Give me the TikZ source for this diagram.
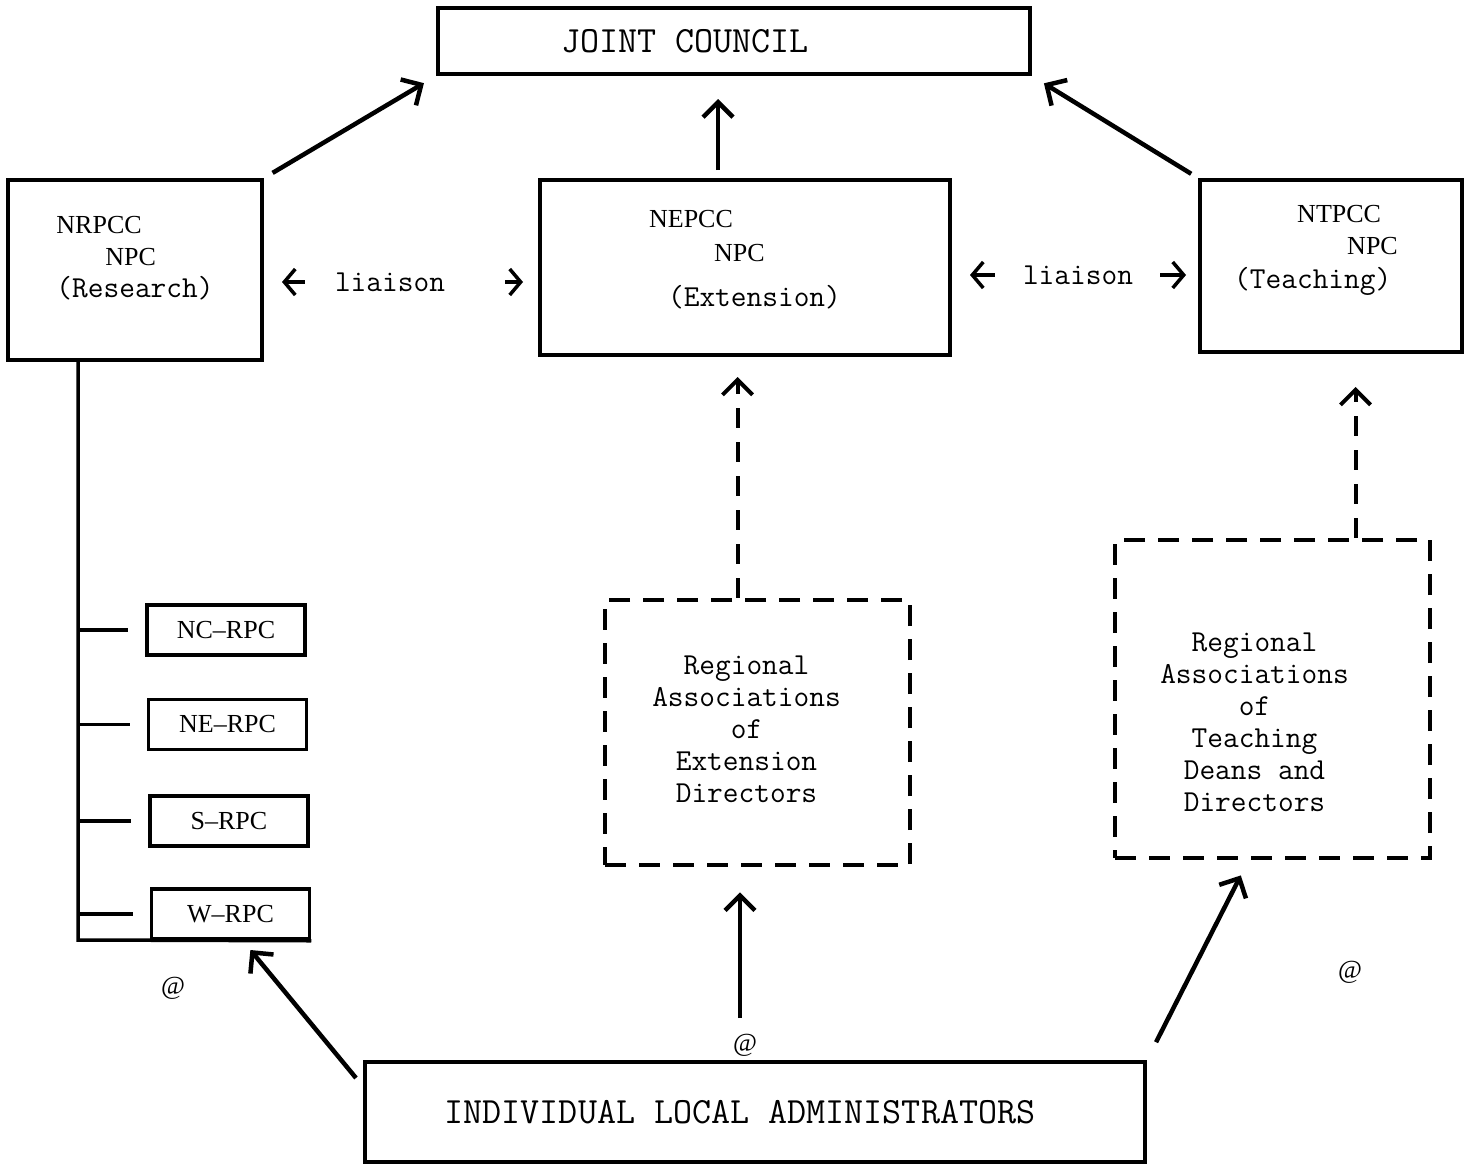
\documentclass[tikz,border=0pt]{standalone}
\usepackage{fontspec}
\setmainfont{Liberation Serif}
\usetikzlibrary{arrows.meta,positioning}

\newcommand\acr{\rmfamily\fontsize{26}{32}\selectfont}

\begin{document}
\begin{tikzpicture}[x=1pt,y=-1pt,
  k/.style={rectangle,draw,line width=4pt,inner sep=0pt},
  kd/.style={k,line width=4.5pt,dash pattern=on 21pt off 13pt},
  tt/.style={font=\ttfamily\fontsize{30.5}{32}\selectfont},
  ttbig/.style={font=\ttfamily\fontsize{37}{40}\selectfont},
  lbl/.style={inner sep=0pt},
  rpc/.style={k,line width=3.5pt,minimum width=158pt,minimum height=50pt,font=\acr},
  tree/.style={line width=3.5pt},
  arr/.style={line width=4.5pt,-{Straight Barb[length=15pt,width=30pt]}},
  darr/.style={arr,line width=4pt,dash pattern=on 20pt off 14pt},
  la/.style={line width=3.5pt,-{Straight Barb[length=11pt,width=26pt]}}]
  \useasboundingbox (0,0) rectangle (1469,1165);

  % top level
  \node[k,ttbig,minimum width=592pt,minimum height=66pt] (jc) at (734,41) {JOINT COUNCIL\hspace*{98pt}};

  % the three national committees
  \node[k,tt,align=left,minimum width=254pt,minimum height=180pt] (nrpcc) at (135,270)
    {{\acr NRPCC}\\\hspace*{49pt}{\acr NPC}\\(Research)\rule[-27pt]{0pt}{0pt}};
  \node[k,tt,align=left,minimum width=410pt,minimum height=175pt] (nepcc) at (745,267.5)
    {{\acr NEPCC}\\[2pt]\hspace*{65pt}{\acr NPC}\\[13pt]\hspace*{19pt}(Extension)\rule[-19pt]{0pt}{0pt}};
  \node[k,tt,align=left,minimum width=262pt,minimum height=172pt] (ntpcc) at (1331,266)
    {\hspace*{63pt}{\acr NTPCC}\\\hspace*{113pt}{\acr NPC}\hspace*{30pt}\mbox{}\\[2pt](Teaching)\rule[-39pt]{0pt}{0pt}};

  \node[tt,lbl] (lia1) at (390,282) {liaison};
  \node[tt,lbl] (lia2) at (1078,275) {liaison};

  % regional research committees
  \node[rpc] (ncrpc) at (226,630) {NC--RPC};
  \node[rpc] (nerpc) at (227.5,724.5) {NE--RPC};
  \node[rpc] (srpc) at (229,821) {S--RPC};
  \node[rpc] (wrpc) at (230.5,914) {W--RPC};
  \coordinate (corner) at (78,940);

  % regional associations
  \node[kd,tt,minimum width=305pt,minimum height=265pt] (raext) at (757.5,732.5)
    {\begin{tabular}{@{}c@{}}Regional\\Associations\\of\\Extension\\Directors\end{tabular}\hspace*{22pt}};
  \node[kd,tt,minimum width=315pt,minimum height=318pt] (rateach) at (1272.5,699)
    {\begin{tabular}{@{}c@{}}\rule{0pt}{75pt}Regional\\Associations\\of\\Teaching\\Deans and\\Directors\end{tabular}\hspace*{36pt}};

  \node[k,ttbig,minimum width=780pt,minimum height=100pt] (ila) at (755,1112) {INDIVIDUAL LOCAL ADMINISTRATORS\hspace*{30pt}};

  \node[font=\acr,lbl] (at1) at (173,988) {@};
  \node[font=\acr,lbl] (at2) at (745,1045) {@};
  \node[font=\acr,lbl] (at3) at (1350,972) {@};

  % connections
  \draw[arr,shorten <=10pt,shorten >=14pt] (nrpcc.north east) -- (jc.south west);
  \draw[arr,shorten <=8pt,shorten >=23pt] ([xshift=-27pt]nepcc.north) -- ([xshift=-27pt]nepcc.north |- jc.south);
  \draw[arr,shorten <=8pt,shorten >=14pt] (ntpcc.north west) -- (jc.south east);

  \draw[la,shorten <=30pt,shorten >=18pt] (lia1.west) -- (nrpcc.east |- lia1.west);
  \draw[la,shorten <=60pt,shorten >=15pt] (lia1.east) -- (nepcc.west |- lia1.east);
  \draw[la,shorten <=28pt,shorten >=18pt] (lia2.west) -- (nepcc.east |- lia2.west);
  \draw[la,shorten <=27pt,shorten >=12pt] (lia2.east) -- (ntpcc.west |- lia2.east);

  \draw[tree] (nrpcc.south -| corner) -- (corner) -- (wrpc.south east);
  \foreach \r in {ncrpc,nerpc,srpc,wrpc}
    \draw[tree,shorten >=17pt] (\r.west -| corner) -- (\r.west);

  \draw[darr,shorten >=20pt] ([xshift=-20pt]raext.north) -- ([xshift=-20pt]raext.north |- nepcc.south);
  \draw[darr,shorten >=33pt] ([xshift=83pt]rateach.north) -- ([xshift=83pt]rateach.north |- ntpcc.south);

  \draw[arr,shorten >=12pt] ([xshift=-7pt,yshift=-18pt]ila.north west) -- ([xshift=93pt]wrpc.south west);
  \draw[arr,shorten <=42pt,shorten >=25pt] ([xshift=-15pt]ila.north) -- ([xshift=-15pt]ila.north |- raext.south);
  \draw[arr,shorten <=20pt,shorten >=17pt] (ila.north east) -- ([xshift=-24pt]rateach.south);
\end{tikzpicture}
\end{document}
